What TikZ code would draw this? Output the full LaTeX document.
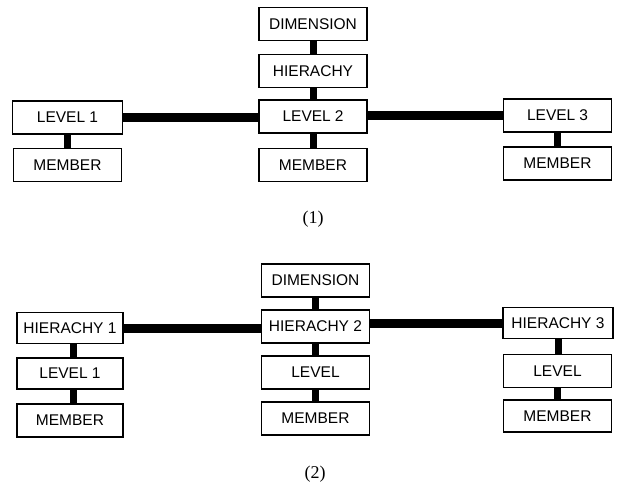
\documentclass[tikz,border=0pt]{standalone}
\usepackage{fontspec}
\setmainfont{Liberation Sans}
\newfontfamily\capfont{Liberation Serif}
\begin{document}
\begin{tikzpicture}[x=1pt,y=-1pt,
  box/.style={draw=black,line width=1.5pt,fill=white,minimum width=108pt,minimum height=33pt,
    inner sep=0pt,font=\fontsize{15.5}{17}\selectfont},
  hbar/.style={line width=9pt,black},
  vbar/.style={line width=7pt,black},
  captext/.style={font=\capfont\fontsize{18}{20}\selectfont}]
\useasboundingbox (0,0) rectangle (620,491);
% ---- diagram (1)
\node[box] (dimA) at (313,24) {DIMENSION};
\node[box] (hierA) at (313,71) {HIERACHY};
\node[box] (levAb) at (313,116.5) {LEVEL\hspace{4pt}2};
\node[box] (memAb) at (313,165) {MEMBER};
\node[box,minimum width=110pt] (levAa) at (67.5,117.5) {LEVEL 1};
\node[box] (memAa) at (67.5,165) {MEMBER};
\node[box] (levAc) at (557.5,115.5) {LEVEL\hspace{4pt}3};
\node[box] (memAc) at (557.5,163.5) {MEMBER};
\node[captext] (capA) at (313,219) {(1)};
\draw[vbar] (dimA.south) -- (hierA.north);
\draw[vbar] (hierA.south) -- (levAb.north);
\draw[vbar] (levAb.south) -- (memAb.north);
\draw[vbar] (levAa.south) -- (memAa.north);
\draw[vbar] (levAc.south) -- (memAc.north);
\draw[hbar] (levAa.east) -- (levAa.east -| levAb.west);
\draw[hbar] (levAc.west) -- (levAc.west -| levAb.east);
% ---- diagram (2)
\node[box] (dimB) at (315.5,280.5) {DIMENSION};
\node[box] (hierBb) at (315.5,326.5) {HIERACHY 2};
\node[box] (levBb) at (315.5,372.5) {LEVEL};
\node[box] (memBb) at (315.5,418.5) {MEMBER};
\node[box,minimum width=106pt,minimum height=31pt] (hierBa) at (70,328) {HIERACHY 1};
\node[box,minimum width=106pt,minimum height=31pt] (levBa) at (70,373.5) {LEVEL 1};
\node[box,minimum width=106pt] (memBa) at (70,420.5) {MEMBER};
\node[box,minimum width=110pt,minimum height=31pt] (hierBc) at (558,323) {HIERACHY 3};
\node[box] (levBc) at (557.5,371) {LEVEL};
\node[box,minimum height=32pt] (memBc) at (557.5,416) {MEMBER};
\node[captext] (capB) at (315,474) {(2)};
\draw[vbar] (dimB.south) -- (hierBb.north);
\draw[vbar] (hierBb.south) -- (levBb.north);
\draw[vbar] (levBb.south) -- (memBb.north);
\draw[vbar] ([xshift=3pt]hierBa.south) -- ([xshift=3pt]levBa.north);
\draw[vbar] ([xshift=3pt]levBa.south) -- ([xshift=3pt]memBa.north);
\draw[vbar] (hierBc.south) -- (hierBc.south |- levBc.north);
\draw[vbar] (levBc.south) -- (memBc.north);
\draw[hbar] (hierBa.east) -- (hierBa.east -| hierBb.west);
\draw[hbar] (hierBc.west) -- (hierBc.west -| hierBb.east);
\end{tikzpicture}
\end{document}
